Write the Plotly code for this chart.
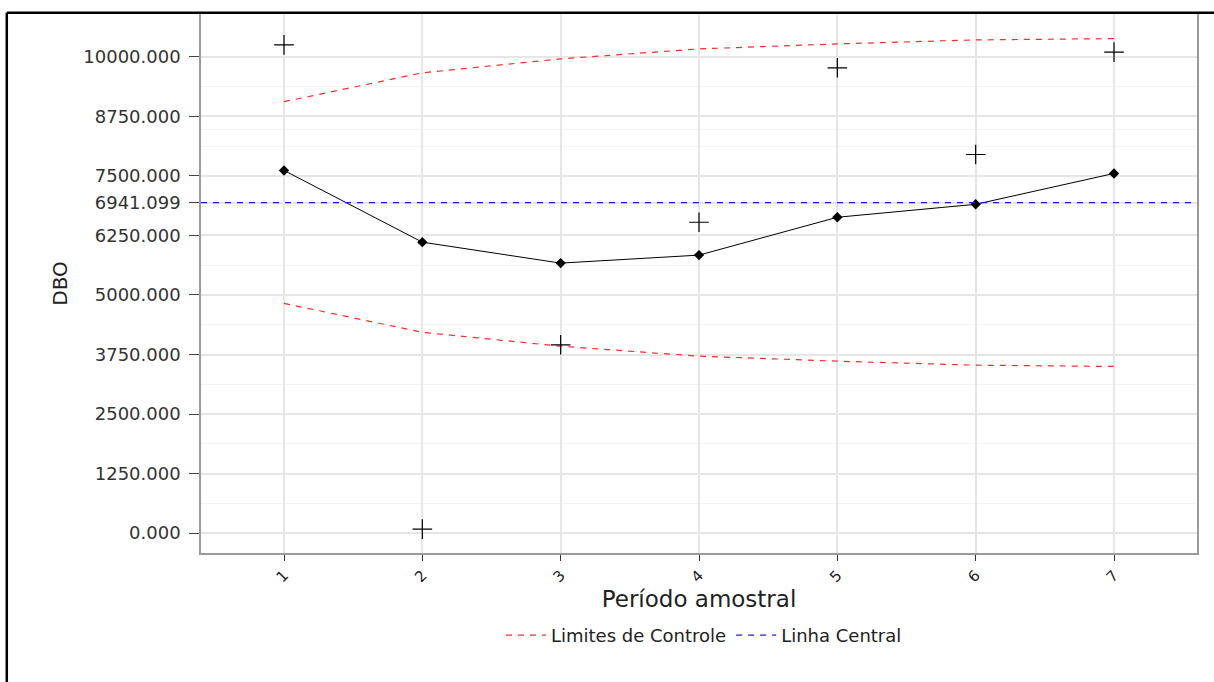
import plotly.graph_objects as go

periodos = [1, 2, 3, 4, 5, 6, 7]
observado = [10251, 84, 3954, 6527, 9770, 7950, 10100]
media_movel = [7615, 6109, 5669, 5837, 6632, 6904, 7552]
lsc = [9059, 9665, 9958, 10167, 10272, 10356, 10383]
lic = [4823, 4217, 3924, 3715, 3610, 3526, 3499]
linha_central = 6941.099

y_major = [0, 1250, 2500, 3750, 5000, 6250, 7500, 8750, 10000, linha_central]
y_labels = [f"{v:.3f}" for v in y_major]
y_minor = [625, 1875, 3125, 4375, 5625, 6875, 8125, 9375, 8470.55]

FONT = "DejaVu Sans"
red = "#ff2a2a"
blue = "#1a1aff"

fig = go.Figure()

fig.add_trace(go.Scatter(x=periodos, y=lsc, mode="lines", name="Limites de Controle",
                         legendgroup="lim", line=dict(color=red, width=1.2, dash="6px,6px")))
fig.add_trace(go.Scatter(x=periodos, y=lic, mode="lines", name="Limites de Controle",
                         legendgroup="lim", showlegend=False,
                         line=dict(color=red, width=1.2, dash="6px,6px")))
fig.add_hline(y=linha_central, line=dict(color=blue, width=1.2, dash="6px,6px"), layer="above")
fig.add_trace(go.Scatter(x=[None], y=[None], mode="lines", name="Linha Central",
                         line=dict(color=blue, width=1.2, dash="6px,6px")))
fig.add_trace(go.Scatter(x=periodos, y=media_movel, mode="lines+markers", showlegend=False,
                         line=dict(color="black", width=1),
                         marker=dict(symbol="diamond", size=8, color="black")))
fig.add_trace(go.Scatter(x=periodos, y=observado, mode="markers", showlegend=False,
                         marker=dict(symbol="cross-thin", size=14,
                                     line=dict(color="black", width=1.2))))

# figure border
fig.add_shape(type="line", xref="paper", yref="paper", x0=-0.195, x1=1.1, y0=1.0025, y1=1.0025,
              line=dict(color="black", width=2.5))
fig.add_shape(type="line", xref="paper", yref="paper", x0=-0.195, x1=-0.195, y0=1.0025, y1=-0.3,
              line=dict(color="black", width=2.5))

fig.update_layout(
    width=1214, height=682,
    margin=dict(l=201, r=17, t=12, b=129),
    paper_bgcolor="white", plot_bgcolor="white",
    font=dict(family=FONT, color="#333333"),
    showlegend=True,
    legend=dict(orientation="h", x=0.505, xanchor="center", y=-0.153, yanchor="middle",
                font=dict(family=FONT, size=18, color="#222222"),
                bordercolor="rgba(0,0,0,0)", itemwidth=40),
    xaxis=dict(range=[0.4, 7.6], tickvals=periodos, ticktext=[str(p) for p in periodos],
               tickangle=-45, ticks="outside", ticklen=6, tickcolor="#333333",
               tickfont=dict(family=FONT, size=15, color="#222222"),
               showgrid=True, gridcolor="#e6e6e6", gridwidth=2,
               showline=True, linecolor="#9a9a9a", linewidth=1.5, mirror=True,
               zeroline=False,
               title=dict(text="Período amostral", font=dict(family=FONT, size=23, color="#222222"),
                          standoff=0)),
    yaxis=dict(range=[-418, 10900], tickvals=y_major, ticktext=y_labels,
               ticks="outside", ticklen=10, tickcolor="#444444",
               ticklabelstandoff=5,
               tickfont=dict(family=FONT, size=18, color="#333333"),
               showgrid=True, gridcolor="#e6e6e6", gridwidth=1.5,
               minor=dict(tickvals=y_minor, showgrid=True, gridcolor="#f4f4f4", gridwidth=1, ticks=""),
               showline=True, linecolor="#9a9a9a", linewidth=1.5, mirror=True,
               zeroline=False,
               title=dict(text="DBO", font=dict(family=FONT, size=20, color="#222222"), standoff=10)),
)

fig.write_html("out.html")
